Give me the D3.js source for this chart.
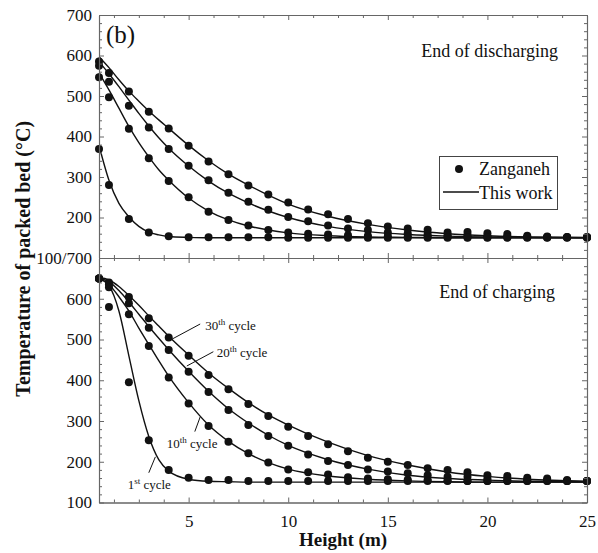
<!DOCTYPE html>
<html>
<head>
<meta charset="utf-8">
<script src="https://cdn.jsdelivr.net/npm/d3@7"></script>
<style>
  body { margin: 0; background: #fff; }
  svg text { font-family: "Liberation Serif", "Times New Roman", serif; fill: #111; }
</style>
</head>
<body>
<div id="chart"></div>
<script>
// measured points (Zanganeh) - height in m, temperature in C
const dotHeights = [0.5, 1, 2, 3, 4, 5, 6, 7, 8, 9, 10, 11, 12, 13, 14, 15, 16, 17, 18, 19, 20, 21, 22, 23, 24, 25];

// end of discharging
const disDot30 = [585, 557, 511, 461, 420, 377, 338, 307, 279, 257, 237, 220, 208, 196, 186, 178, 173, 170, 163, 164, 161, 159, 155, 153, 152, 152];
const disDot20 = [575, 535, 476, 422, 369, 328, 292, 261, 239, 219, 201, 191, 180, 173, 169, 163, 161, 159, 156, 156, 154, 153, 152, 151, 151, 151];
const disDot10 = [546, 497, 419, 346, 290, 250, 214, 194, 180, 169, 163, 160, 158, 156, 155, 154, 153, 153, 152, 151, 151, 151, 151, 151, 151, 151];
const disDot1  = [369, 280, 196, 163, 154, 151, 151, 151, 151, 151, 150, 150, 150, 150, 150, 150, 150, 150, 150, 150, 150, 150, 150, 150, 150, 150];

// end of charging
const chDot30 = [650, 640, 604, 552, 505, 460, 413, 378, 342, 312, 286, 263, 243, 226, 210, 200, 192, 184, 180, 174, 167, 165, 161, 159, 155, 153];
const chDot20 = [650, 635, 589, 529, 474, 421, 371, 327, 290, 263, 239, 218, 202, 192, 181, 176, 172, 167, 163, 163, 159, 159, 156, 155, 153, 153];
const chDot10 = [650, 628, 562, 484, 407, 343, 288, 249, 221, 198, 181, 174, 169, 162, 159, 157, 156, 155, 154, 153, 153, 153, 153, 153, 153, 153];
const chDot1  = [650, 580, 395, 253, 180, 161, 155, 155, 153, 153, 153, 153, 153, 153, 153, 153, 153, 153, 153, 153, 153, 153, 153, 153, 153, 153];

// model curves (This work)
const lineHeights = [0.5, 1, 1.5, 2, 2.5, 3, 3.5, 4, 5, 6, 7, 8, 9, 10, 12, 14, 16, 18, 20, 22, 25];

const disLine30 = [597, 570, 540, 512, 487, 463, 441, 420, 378, 340, 307, 280, 255, 233, 203, 183, 169, 160, 155, 152, 151];
const disLine20 = [585, 555, 523, 490, 457, 426, 397, 371, 327, 290, 260, 236, 216, 200, 178, 165, 158, 154, 152, 151, 150];
const disLine10 = [557, 515, 470, 425, 385, 350, 318, 292, 248, 216, 194, 179, 169, 162, 155, 152, 151, 150, 150, 150, 150];
const disLine1  = [378, 292, 235, 202, 178, 164, 157, 153, 151, 150, 150, 150, 150, 150, 150, 150, 150, 150, 150, 150, 150];

const chLine30 = [652, 646, 630, 608, 584, 558, 533, 508, 462, 418, 380, 345, 315, 290, 248, 215, 192, 175, 164, 157, 152];
const chLine20 = [650, 642, 620, 592, 562, 532, 503, 475, 422, 373, 330, 295, 265, 240, 205, 182, 167, 159, 155, 152, 151];
const chLine10 = [650, 635, 605, 570, 528, 488, 448, 410, 345, 290, 250, 220, 198, 182, 165, 157, 153, 151, 150, 150, 150];
const chLine1  = [650, 632, 570, 460, 350, 262, 205, 177, 157, 152, 151, 150, 150, 150, 150, 150, 150, 150, 150, 150, 150];

const yTicksTop = [100, 200, 300, 400, 500, 600, 700];
const yTicksBot = [100, 200, 300, 400, 500, 600];
const xTicks = [5, 10, 15, 20, 25];

// cycle labels on the charging panel, text spot and leader ends in data units
const cycleLabels = [
  { num: "30", sup: "th", tx: 5.83, ty: 523, x1: 4.17, y1: 501, x2: 5.58, y2: 538 },
  { num: "20", sup: "th", tx: 6.41, ty: 458, x1: 4.91, y1: 435, x2: 6.24, y2: 470 },
  { num: "10", sup: "th", tx: 3.90, ty: 234, x1: 5.58, y1: 310, x2: 5.31, y2: 274 },
  { num: "1",  sup: "st", tx: 1.94, ty: 133, x1: 3.33, y1: 212, x2: 3.00, y2: 173 }
];

const W = 598, H = 553;
const left = 99, right = 587;
const frameColor = "#666";

const svg = d3.select("#chart").append("svg")
  .attr("width", W)
  .attr("height", H);

const x = d3.scaleLinear().domain([0.5, 25]).range([left, right]);
const yTop = d3.scaleLinear().domain([100, 700]).range([258, 15]);
const yBot = d3.scaleLinear().domain([100, 700]).range([502.5, 258]);

const xMinor = d3.range(1.25, 25, 1.25).filter(v => v % 5 !== 0);
const yMinor = d3.range(100, 701, 20).filter(v => v % 100 !== 0);

function styleAxis(g) {
  g.attr("font-family", "'Liberation Serif', 'Times New Roman', serif");
  g.select(".domain").attr("stroke", frameColor).attr("stroke-width", 1.1);
  g.selectAll(".tick line").attr("stroke", frameColor).attr("stroke-width", 1);
  g.selectAll(".tick text").attr("font-size", 17).attr("fill", "#111");
}

function drawFrame(y, top, bottom, labelFmt, yTicks, showX) {
  const g = svg.append("g");

  // left
  g.append("g").attr("transform", `translate(${left},0)`)
    .call(d3.axisLeft(y).tickValues(yMinor).tickSize(-3).tickSizeOuter(0).tickFormat(""))
    .call(styleAxis);
  g.append("g").attr("transform", `translate(${left},0)`)
    .call(d3.axisLeft(y).tickValues(yTicks).tickSize(-5).tickSizeOuter(0).tickPadding(7).tickFormat(labelFmt))
    .call(styleAxis);

  // right
  g.append("g").attr("transform", `translate(${right},0)`)
    .call(d3.axisRight(y).tickValues(yMinor).tickSize(-3).tickSizeOuter(0).tickFormat(""))
    .call(styleAxis);
  g.append("g").attr("transform", `translate(${right},0)`)
    .call(d3.axisRight(y).tickValues(yTicks).tickSize(-5).tickSizeOuter(0).tickFormat(""))
    .call(styleAxis);

  // top
  g.append("g").attr("transform", `translate(0,${top})`)
    .call(d3.axisTop(x).tickValues(xMinor).tickSize(-3).tickSizeOuter(0).tickFormat(""))
    .call(styleAxis);
  g.append("g").attr("transform", `translate(0,${top})`)
    .call(d3.axisTop(x).tickValues(xTicks).tickSize(-5).tickSizeOuter(0).tickFormat(""))
    .call(styleAxis);

  // bottom
  g.append("g").attr("transform", `translate(0,${bottom})`)
    .call(d3.axisBottom(x).tickValues(xMinor).tickSize(-3).tickSizeOuter(0).tickFormat(""))
    .call(styleAxis);
  g.append("g").attr("transform", `translate(0,${bottom})`)
    .call(d3.axisBottom(x).tickValues(xTicks).tickSize(-5).tickSizeOuter(0).tickPadding(12)
      .tickFormat(showX ? d3.format("d") : ""))
    .call(styleAxis);
}

function drawSeries(y, dots, lines) {
  const line = d3.line()
    .x((d, i) => x(lineHeights[i]))
    .y(d => y(d))
    .curve(d3.curveMonotoneX);

  svg.append("g").selectAll("path")
    .data(lines)
    .join("path")
    .attr("d", line)
    .attr("fill", "none")
    .attr("stroke", "#111")
    .attr("stroke-width", 1.4);

  dots.forEach(series => {
    svg.append("g").selectAll("circle")
      .data(series)
      .join("circle")
      .attr("cx", (d, i) => x(dotHeights[i]))
      .attr("cy", d => y(d))
      .attr("r", 4)
      .attr("fill", "#111");
  });
}

drawSeries(yTop, [disDot30, disDot20, disDot10, disDot1], [disLine30, disLine20, disLine10, disLine1]);
drawSeries(yBot, [chDot30, chDot20, chDot10, chDot1], [chLine30, chLine20, chLine10, chLine1]);

drawFrame(yTop, 15, 258, d => d === 100 ? "100/700" : d, yTicksTop, false);
drawFrame(yBot, 258, 502.5, d => d, yTicksBot, true);

// panel texts
svg.append("text").attr("x", 106).attr("y", 43).attr("font-size", 25).text("(b)");
svg.append("text").attr("x", 558).attr("y", 57).attr("text-anchor", "end")
  .attr("font-size", 18).text("End of discharging");
svg.append("text").attr("x", 555).attr("y", 298).attr("text-anchor", "end")
  .attr("font-size", 18).text("End of charging");

// legend
const lg = svg.append("g");
lg.append("rect").attr("x", 439.5).attr("y", 156.5).attr("width", 118).attr("height", 53)
  .attr("fill", "#fff").attr("stroke", "#444").attr("stroke-width", 1);
lg.append("circle").attr("cx", 459).attr("cy", 169).attr("r", 4).attr("fill", "#111");
lg.append("text").attr("x", 479).attr("y", 175).attr("font-size", 18).text("Zanganeh");
lg.append("line").attr("x1", 443).attr("x2", 479).attr("y1", 192).attr("y2", 192)
  .attr("stroke", "#111").attr("stroke-width", 1.4);
lg.append("text").attr("x", 479).attr("y", 199).attr("font-size", 18).text("This work");

// cycle annotations
cycleLabels.forEach(c => {
  svg.append("line")
    .attr("x1", x(c.x1)).attr("y1", yBot(c.y1))
    .attr("x2", x(c.x2)).attr("y2", yBot(c.y2))
    .attr("stroke", "#111").attr("stroke-width", 1);
  const t = svg.append("text")
    .attr("x", x(c.tx)).attr("y", yBot(c.ty))
    .attr("font-size", 13);
  t.append("tspan").text(c.num);
  t.append("tspan").attr("dy", -5).attr("font-size", 9).text(c.sup);
  t.append("tspan").attr("dy", 5).text(" cycle");
});

// axis titles
svg.append("text")
  .attr("x", (left + right) / 2).attr("y", 546)
  .attr("text-anchor", "middle").attr("font-size", 19).attr("font-weight", "bold")
  .text("Height (m)");
svg.append("text")
  .attr("transform", `translate(30,${(15 + 502.5) / 2}) rotate(-90)`)
  .attr("text-anchor", "middle").attr("font-size", 20).attr("font-weight", "bold")
  .text("Temperature of packed bed (°C)");
</script>
</body>
</html>
